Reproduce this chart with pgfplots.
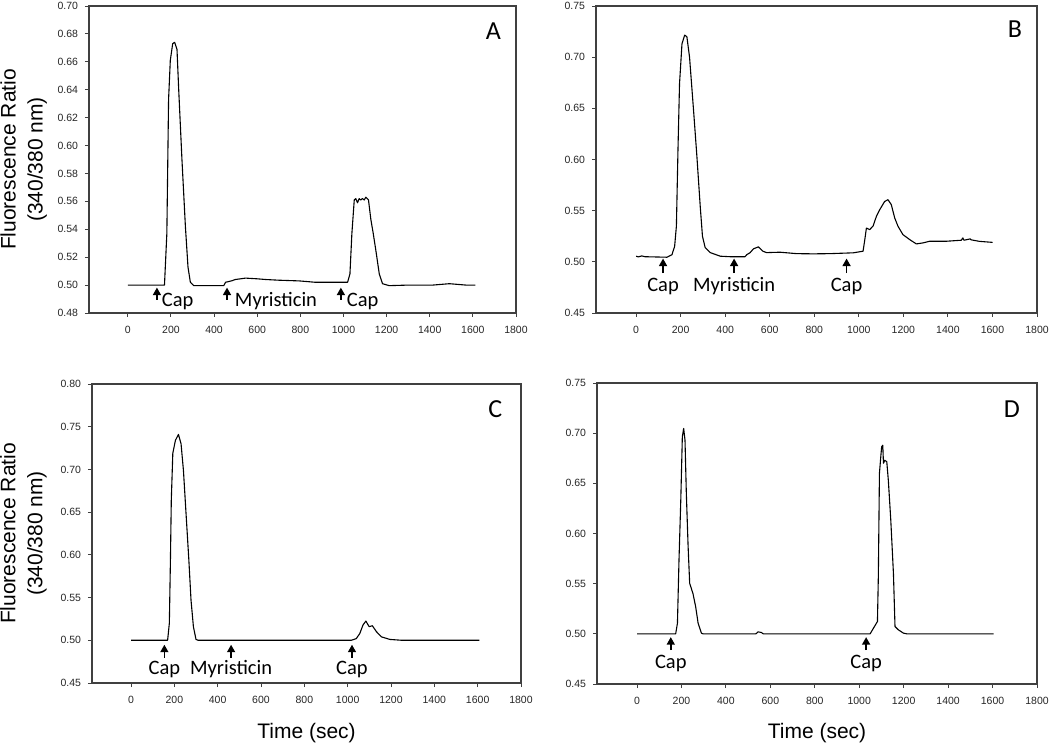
\documentclass[border=0pt]{standalone}
\usepackage{fontspec}
\setmainfont{Liberation Sans}
\newfontfamily\calfont{Carlito}
\usepackage{pgfplots}
\pgfplotsset{compat=1.18}
\usetikzlibrary{arrows.meta}

\pgfplotsset{
 panel/.style={
  scale only axis, anchor=south west,
  xmin=-180, xmax=1800,
  xtick={0,200,400,600,800,1000,1200,1400,1600,1800},
  tick align=outside, tick pos=left,
  major tick length=4pt,
  axis line style={black!75, line width=1.1pt},
  tick style={black!75, line width=0.9pt},
  ticklabel style={font=\fontsize{10.5}{12}\selectfont, text=black!85},
  /pgf/number format/assume math mode=true,
  /pgf/number format/1000 sep={},
  xticklabel style={yshift=-6pt},
  y tick label style={/pgf/number format/.cd, fixed, fixed zerofill, precision=2, /tikz/.cd, xshift=-3.5pt},
  ylabel style={font=\fontsize{21}{27}\selectfont, align=center, anchor=center},
  xlabel style={font=\fontsize{21}{25}\selectfont, anchor=center},
 },
 data/.style={black, line width=1.1pt, no marks, line join=round},
}
\tikzset{
 ann/.style={font=\calfont\fontsize{20.5}{24}\selectfont, inner sep=0pt, text=black},
 letter/.style={font=\calfont\fontsize{26}{30}\selectfont, text=black},
 arr/.style={-{Triangle[width=8pt,length=7.5pt]}, line width=1.5pt, black},
}

\begin{document}
\begin{tikzpicture}
\useasboundingbox (0,0) rectangle (1050pt,745pt);

% ---------------- Panel A ----------------
\begin{axis}[panel, at={(89pt,432pt)}, width=427pt, height=307pt,
  ymin=0.48, ymax=0.70,
  ytick={0.48,0.50,0.52,0.54,0.56,0.58,0.60,0.62,0.64,0.66,0.68,0.70},
  ylabel={Fluorescence Ratio\\(340/380 nm)},
  ylabel style={at={(axis description cs:-0.153,0.5)}},
]
\addplot[data] coordinates {
(0,0.500) (170,0.500) (181,0.537) (189,0.633) (197,0.661) (208,0.673) (217,0.674)
(228,0.669) (236,0.640) (251,0.590) (267,0.542) (279,0.513) (290,0.502) (306,0.4996)
(445,0.4996) (453,0.502) (480,0.503) (499,0.504) (546,0.505) (600,0.5045) (639,0.504)
(700,0.5035) (794,0.503) (871,0.502) (980,0.502) (1019,0.502) (1030,0.508) (1039,0.537)
(1050,0.561) (1057,0.562) (1065,0.559) (1073,0.562) (1080,0.561) (1088,0.562) (1096,0.561)
(1104,0.563) (1116,0.561) (1127,0.547) (1138,0.537) (1150,0.525) (1166,0.508)
(1181,0.501) (1212,0.4996) (1300,0.500) (1414,0.500) (1491,0.501) (1569,0.500) (1612,0.500)
};
\draw[arr] (axis cs:135,0.4895) -- (axis cs:135,0.4982);
\node[ann, anchor=base west] at (axis cs:157,0.4845) {Cap};
\draw[arr] (axis cs:460,0.4895) -- (axis cs:460,0.4982);
\node[ann, anchor=base west] at (axis cs:496,0.4845) {Myristicin};
\draw[arr] (axis cs:988,0.4895) -- (axis cs:988,0.4982);
\node[ann, anchor=base west] at (axis cs:1015,0.4845) {Cap};
\node[letter] at (rel axis cs:0.947,0.919) {A};
\end{axis}

% ---------------- Panel B ----------------
\begin{axis}[panel, at={(596pt,432pt)}, width=441pt, height=307pt,
  ymin=0.45, ymax=0.75,
  ytick={0.45,0.50,0.55,0.60,0.65,0.70,0.75},
]
\addplot[data] coordinates {
(0,0.5055) (10,0.5048) (25,0.5058) (40,0.5050) (139,0.5045) (161,0.507) (173,0.515)
(181,0.535) (188,0.609) (195,0.674) (206,0.713) (218,0.7215) (228,0.720) (240,0.700)
(258,0.648) (273,0.603) (288,0.554) (298,0.525) (310,0.514) (333,0.509) (378,0.5055)
(422,0.505) (489,0.505) (497,0.507) (512,0.509) (527,0.5127) (549,0.5146) (569,0.5104)
(586,0.509) (646,0.5094) (721,0.508) (796,0.5078) (870,0.508) (975,0.5088) (1019,0.5104)
(1027,0.5218) (1034,0.533) (1049,0.5315) (1064,0.535) (1079,0.5445) (1094,0.551)
(1116,0.559) (1131,0.5607) (1146,0.5558) (1161,0.5429) (1176,0.5347) (1198,0.5266)
(1228,0.5218) (1258,0.5175) (1288,0.5185) (1318,0.5201) (1392,0.5201) (1460,0.5211)
(1467,0.5234) (1472,0.5211) (1500,0.5224) (1504,0.5215) (1542,0.520) (1601,0.519)
};
\draw[arr] (axis cs:121,0.4890) -- (axis cs:121,0.5032);
\node[ann, anchor=base] at (axis cs:121,0.4714) {Cap};
\draw[arr] (axis cs:440,0.4890) -- (axis cs:440,0.5032);
\node[ann, anchor=base] at (axis cs:440,0.4714) {Myristicin};
\draw[arr] (axis cs:945,0.4890) -- (axis cs:945,0.5032);
\node[ann, anchor=base] at (axis cs:945,0.4714) {Cap};
\node[letter] at (rel axis cs:0.95,0.923) {B};
\end{axis}

% ---------------- Panel C ----------------
\begin{axis}[panel, at={(92pt,62pt)}, width=429pt, height=299pt,
  ymin=0.45, ymax=0.80,
  ytick={0.45,0.50,0.55,0.60,0.65,0.70,0.75,0.80},
  ylabel={Fluorescence Ratio\\(340/380 nm)},
  ylabel style={at={(axis description cs:-0.160,0.5)}},
  xlabel={Time (sec)},
  xlabel style={at={(axis description cs:0.5,-0.167)}},
]
\addplot[data] coordinates {
(0,0.500) (169,0.500) (177,0.520) (182,0.594) (186,0.664) (193,0.719) (205,0.734)
(219,0.741) (231,0.730) (242,0.699) (254,0.6485) (267,0.594) (277,0.547) (288,0.516)
(300,0.501) (310,0.500) (1017,0.500) (1040,0.502) (1056,0.508) (1071,0.518) (1084,0.5225)
(1099,0.516) (1114,0.517) (1133,0.510) (1156,0.504) (1195,0.501) (1250,0.500) (1608,0.500)
};
\draw[arr] (axis cs:154,0.4793) -- (axis cs:154,0.4948);
\node[ann, anchor=base] at (axis cs:154,0.4601) {Cap};
\draw[arr] (axis cs:462,0.4793) -- (axis cs:462,0.4948);
\node[ann, anchor=base] at (axis cs:462,0.4601) {Myristicin};
\draw[arr] (axis cs:1020,0.4793) -- (axis cs:1020,0.4948);
\node[ann, anchor=base] at (axis cs:1020,0.4601) {Cap};
\node[letter] at (rel axis cs:0.94,0.916) {C};
\end{axis}

% ---------------- Panel D ----------------
\begin{axis}[panel, at={(597pt,61pt)}, width=440pt, height=301pt,
  ymin=0.45, ymax=0.75,
  ytick={0.45,0.50,0.55,0.60,0.65,0.70,0.75},
  xlabel={Time (sec)},
  xlabel style={at={(axis description cs:0.5,-0.163)}},
]
\addplot[data] coordinates {
(0,0.500) (174,0.500) (182,0.5106) (189,0.5737) (197,0.633) (204,0.6964) (210,0.7047)
(216,0.693) (222,0.640) (230,0.587) (237,0.5504) (252,0.540) (264,0.527) (275,0.5106)
(290,0.5007) (297,0.500) (535,0.500) (545,0.502) (560,0.5013) (568,0.500) (1049,0.500)
(1064,0.5056) (1082,0.5123) (1086,0.557) (1091,0.660) (1097,0.6765) (1101,0.6865)
(1106,0.688) (1109,0.670) (1115,0.673) (1124,0.6715) (1131,0.653) (1142,0.6135)
(1154,0.560) (1161,0.5073) (1176,0.504) (1199,0.5007) (1214,0.500) (1605,0.500)
};
\draw[arr] (axis cs:152,0.4838) -- (axis cs:152,0.4967);
\node[ann, anchor=base] at (axis cs:152,0.4658) {Cap};
\draw[arr] (axis cs:1031,0.4838) -- (axis cs:1031,0.4967);
\node[ann, anchor=base] at (axis cs:1031,0.4658) {Cap};
\node[letter] at (rel axis cs:0.943,0.912) {D};
\end{axis}
\end{tikzpicture}
\end{document}
